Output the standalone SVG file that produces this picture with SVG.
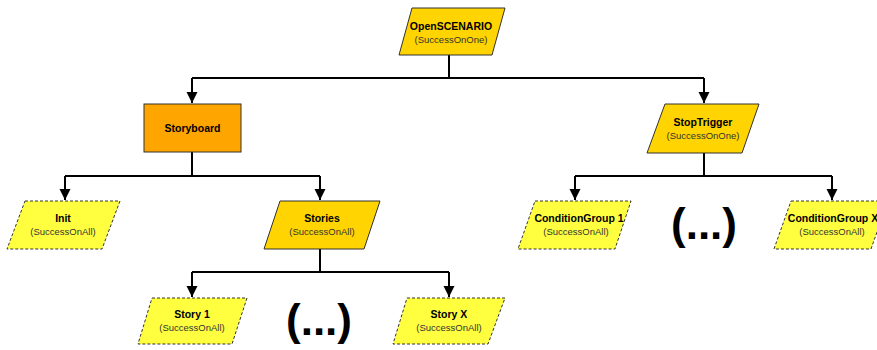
<svg xmlns="http://www.w3.org/2000/svg" width="877" height="350" viewBox="0 0 877 350">
<style>
.gold{fill:#ffd400;stroke:#333;stroke-width:1}
.orange{fill:#ffa500;stroke:#333;stroke-width:1}
.dash{fill:#ffff40;stroke:#333;stroke-width:1;stroke-dasharray:3,2}
.t{font-family:"Liberation Sans",Arial,sans-serif;font-size:10.5px;font-weight:bold;fill:#000;text-anchor:middle}
.s{font-family:"Liberation Sans",Arial,sans-serif;font-size:9.5px;fill:#333;text-anchor:middle}
.e{font-family:"Liberation Sans",Arial,sans-serif;font-size:44px;font-weight:bold;fill:#000;text-anchor:middle}
.c{fill:none;stroke:#000;stroke-width:2}
</style>
<defs>
<marker id="ah" markerUnits="userSpaceOnUse" markerWidth="12" markerHeight="12" viewBox="0 0 12 12" refX="11" refY="6" orient="auto">
<path d="M0,0.5 L11,6 L0,11.5 Z" fill="#000"/>
</marker>
</defs>
<g id="connectors">
<path class="c" d="M449,55 V78 M192,78 H704"/>
<path class="c" d="M192,78 V103" marker-end="url(#ah)"/>
<path class="c" d="M704,78 V103" marker-end="url(#ah)"/>
<path class="c" d="M192,152 V176 M65,176 H320"/>
<path class="c" d="M65,176 V200" marker-end="url(#ah)"/>
<path class="c" d="M320,176 V200" marker-end="url(#ah)"/>
<path class="c" d="M320,249 V272 M192,272 H449"/>
<path class="c" d="M192,272 V297" marker-end="url(#ah)"/>
<path class="c" d="M449,272 V297" marker-end="url(#ah)"/>
<path class="c" d="M704,153 V176 M575,176 H832"/>
<path class="c" d="M575,176 V200" marker-end="url(#ah)"/>
<path class="c" d="M832,176 V200" marker-end="url(#ah)"/>
</g>
<g id="openscenario">
<polygon class="gold" points="412,8 505,8 492,55 399,55"/>
<text class="t" x="451" y="30">OpenSCENARIO</text>
<text class="s" x="451" y="43">(SuccessOnOne)</text>
</g>
<g id="storyboard">
<rect class="orange" x="144" y="104" width="97" height="48"/>
<text class="t" x="192.5" y="132">Storyboard</text>
</g>
<g id="stoptrigger">
<polygon class="gold" points="665,104 759,104 742,153 647,153"/>
<text class="t" x="703" y="126">StopTrigger</text>
<text class="s" x="703" y="139">(SuccessOnOne)</text>
</g>
<g id="init">
<polygon class="dash" points="25,201 120,201 102,249 7,249"/>
<text class="t" x="63" y="222">Init</text>
<text class="s" x="63" y="235">(SuccessOnAll)</text>
</g>
<g id="stories">
<polygon class="gold" points="280,201 380,201 364,249 264,249"/>
<text class="t" x="322" y="222">Stories</text>
<text class="s" x="322" y="235">(SuccessOnAll)</text>
</g>
<g id="conditiongroup1">
<polygon class="dash" points="535,201 631,201 615,249 518,249"/>
<text class="t" x="579" y="222">ConditionGroup 1</text>
<text class="s" x="576" y="235">(SuccessOnAll)</text>
</g>
<g id="conditiongroupx">
<polygon class="dash" points="791,201 888,201 871,249 774,249"/>
<text class="t" x="833" y="222">ConditionGroup X</text>
<text class="s" x="832" y="235">(SuccessOnAll)</text>
</g>
<g id="story1">
<polygon class="dash" points="152,298 247,298 232,344 138,344"/>
<text class="t" x="192" y="318">Story 1</text>
<text class="s" x="192" y="331">(SuccessOnAll)</text>
</g>
<g id="storyx">
<polygon class="dash" points="407,298 505,298 488,344 393,344"/>
<text class="t" x="449" y="318">Story X</text>
<text class="s" x="449" y="331">(SuccessOnAll)</text>
</g>
<g id="ellipsis1"><text class="e" x="319" y="335">(...)</text></g>
<g id="ellipsis2"><text class="e" x="704" y="239">(...)</text></g>
</svg>
